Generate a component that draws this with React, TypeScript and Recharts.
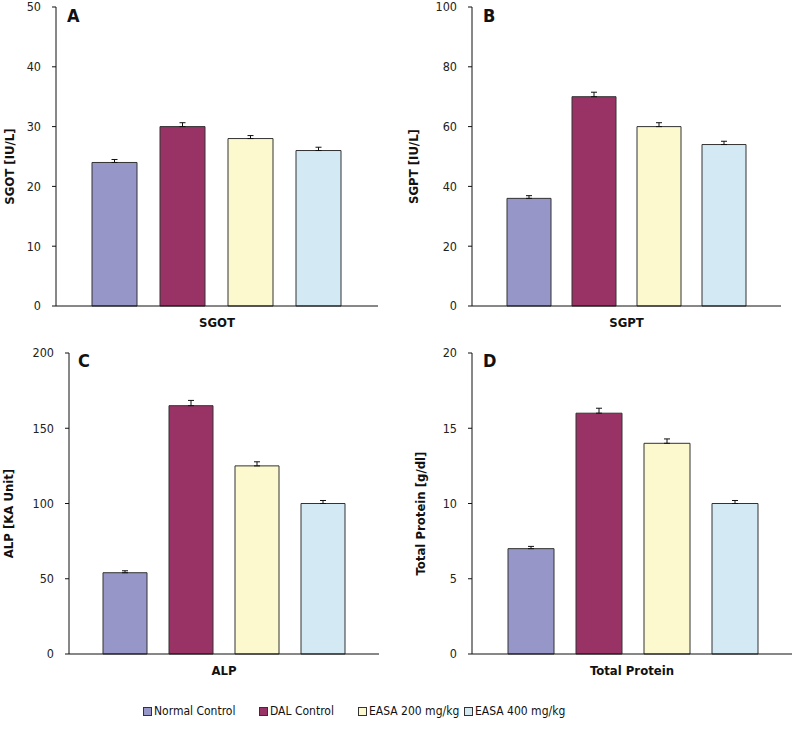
import React from "react";
import { BarChart, Bar, XAxis, YAxis, ErrorBar } from "recharts";

const groups = ["Normal Control", "DAL Control", "EASA 200 mg/kg", "EASA 400 mg/kg"];
const groupKeys = ["nc", "dal", "e200", "e400"];
const groupColors = ["#9696c8", "#993366", "#fbf9cd", "#d3eaf5"];

const sgotValues = [24, 30, 28, 26];
const sgotErrors = [0.5, 0.65, 0.5, 0.55];
const sgptValues = [36, 70, 60, 54];
const sgptErrors = [0.9, 1.5, 1.3, 1.1];
const alpValues = [54, 165, 125, 100];
const alpErrors = [1.3, 3.5, 2.7, 2];
const proteinValues = [7, 16, 14, 10];
const proteinErrors = [0.15, 0.33, 0.29, 0.2];

const sgotTicks = [0, 10, 20, 30, 40, 50];
const sgptTicks = [0, 20, 40, 60, 80, 100];
const alpTicks = [0, 50, 100, 150, 200];
const proteinTicks = [0, 5, 10, 15, 20];

const FONT = '"Liberation Sans Narrow", "DejaVu Sans Condensed", "Open Sans", sans-serif';

function makeRow(name: string, values: number[], errors: number[]) {
  const row: any = { name };
  groupKeys.forEach((k, i) => {
    row[k] = values[i];
    row[k + "Err"] = [0, errors[i]];
  });
  return [row];
}

type PanelProps = {
  letter: string;
  category: string;
  yTitle: string;
  values: number[];
  errors: number[];
  ticks: number[];
  left: number;
  top: number;
  width: number;
  height: number;
  margin: { top: number; right: number; left: number; bottom: number };
  yWidth: number;
  gap: number;
  barGap: number;
  labelX: number;
  letterPos: [number, number];
};

function Panel(p: PanelProps) {
  const data = makeRow(p.category, p.values, p.errors);
  const yLabel = (props: any) => {
    const vb = props.viewBox || {};
    const cy = vb.y + vb.height / 2 + 10;
    return (
      <text
        x={p.labelX}
        y={cy}
        transform={`rotate(-90 ${p.labelX} ${cy})`}
        textAnchor="middle"
        dominantBaseline="central"
        fontFamily={FONT}
        fontWeight="bold"
        fontSize={13}
        fill="#111"
      >
        {p.yTitle}
      </text>
    );
  };
  return (
    <div style={{ position: "absolute", left: p.left, top: p.top }}>
      <BarChart
        width={p.width}
        height={p.height}
        data={data}
        margin={p.margin}
        barCategoryGap={p.gap}
        barGap={p.barGap}
      >
        <XAxis
          dataKey="name"
          tickLine={false}
          tickSize={0}
          tickMargin={12}
          height={29}
          axisLine={{ stroke: "#111" }}
          tick={{ fontFamily: FONT, fontWeight: "bold", fontSize: 13, fill: "#111" }}
        />
        <YAxis
          width={p.yWidth}
          domain={[p.ticks[0], p.ticks[p.ticks.length - 1]]}
          ticks={p.ticks}
          interval={0}
          tickSize={4}
          tickMargin={11}
          axisLine={{ stroke: "#111" }}
          tickLine={{ stroke: "#111" }}
          tick={{ fontFamily: FONT, fontSize: 12.5, fill: "#222" }}
          label={yLabel}
        />
        {groupKeys.map((k, i) => (
          <Bar
            key={k}
            dataKey={k}
            name={groups[i]}
            fill={groupColors[i]}
            stroke="#333"
            strokeWidth={1}
            isAnimationActive={false}
          >
            <ErrorBar dataKey={k + "Err"} width={3} stroke="#111" strokeWidth={1} direction="y" />
          </Bar>
        ))}
      </BarChart>
      <div
        style={{
          position: "absolute",
          left: p.letterPos[0],
          top: p.letterPos[1],
          fontFamily: FONT,
          fontWeight: "bold",
          fontSize: 18,
          color: "#111",
          lineHeight: "18px",
        }}
      >
        {p.letter}
      </div>
    </div>
  );
}

export default function App() {
  const legendLefts = [143, 259, 358, 464];
  return (
    <div style={{ position: "absolute", left: 0, top: 0, width: 793, height: 738, background: "#fff" }}>
      <Panel
        letter="A"
        category="SGOT"
        yTitle="SGOT [IU/L]"
        values={sgotValues}
        errors={sgotErrors}
        ticks={sgotTicks}
        left={0}
        top={0}
        width={395}
        height={335}
        margin={{ top: 7, right: 17, left: 0, bottom: 0 }}
        yWidth={56}
        gap={36}
        barGap={23}
        labelX={9}
        letterPos={[67, 7]}
      />
      <Panel
        letter="B"
        category="SGPT"
        yTitle="SGPT [IU/L]"
        values={sgptValues}
        errors={sgptErrors}
        ticks={sgptTicks}
        left={395}
        top={0}
        width={398}
        height={335}
        margin={{ top: 7, right: 12, left: 0, bottom: 0 }}
        yWidth={77}
        gap={35}
        barGap={21}
        labelX={18}
        letterPos={[88, 7]}
      />
      <Panel
        letter="C"
        category="ALP"
        yTitle="ALP [KA Unit]"
        values={alpValues}
        errors={alpErrors}
        ticks={alpTicks}
        left={0}
        top={330}
        width={395}
        height={353}
        margin={{ top: 23, right: 16, left: 0, bottom: 0 }}
        yWidth={69}
        gap={34}
        barGap={22}
        labelX={8}
        letterPos={[78, 22]}
      />
      <Panel
        letter="D"
        category="Total Protein"
        yTitle="Total Protein [g/dl]"
        values={proteinValues}
        errors={proteinErrors}
        ticks={proteinTicks}
        left={395}
        top={330}
        width={398}
        height={353}
        margin={{ top: 23, right: 1, left: 0, bottom: 0 }}
        yWidth={77}
        gap={36}
        barGap={22}
        labelX={25}
        letterPos={[88, 22]}
      />
      {groups.map((g, i) => (
        <div
          key={g}
          style={{
            position: "absolute",
            left: legendLefts[i],
            top: 704,
            display: "flex",
            alignItems: "center",
            fontFamily: FONT,
            fontSize: 12,
            color: "#111",
            whiteSpace: "nowrap",
          }}
        >
          <span
            style={{
              display: "inline-block",
              width: 7,
              height: 7,
              background: groupColors[i],
              border: "1px solid #333",
              marginRight: 2,
            }}
          />
          {g}
        </div>
      ))}
    </div>
  );
}
